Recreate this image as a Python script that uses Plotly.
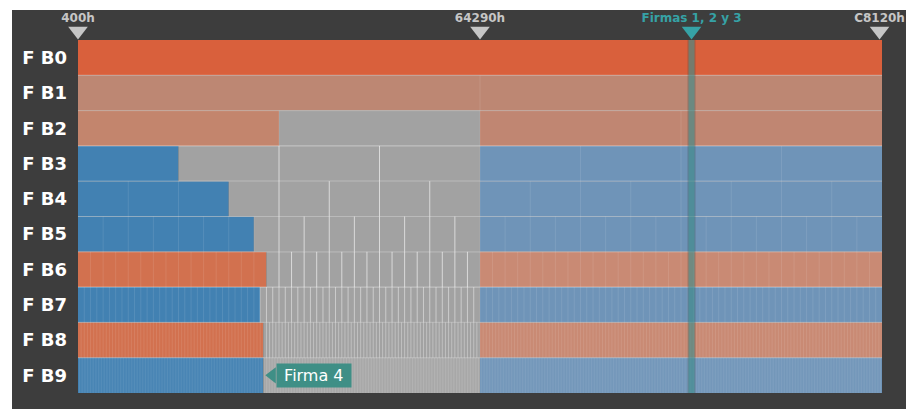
import plotly.graph_objects as go

# ---------------- data ----------------
rows = ["F B0", "F B1", "F B2", "F B3", "F B4", "F B5", "F B6", "F B7", "F B8", "F B9"]
range_start = 0x400      # 400h
range_mid = 0x64290      # 64290h
range_end = 0xC8120      # C8120h
firmas_pos = 625600      # "Firmas 1, 2 y 3"

# end of the coloured (resolved) segment of each row
left_ends = [819488, 410256, 205640, 103332, 154486, 180063, 192852, 186457, 189655, 189655]
# number of equal subdivisions of the full range on each row
divisions = [1, 2, 4, 8, 16, 32, 64, 128, 256, 512]

left_colors = ["#d9603c", "#bd8773", "#c3856d", "#4281b2", "#4281b2", "#4281b2",
               "#d2714f", "#4281b2", "#d2714f", "#4281b2"]
right_colors = ["#d9603c", "#bd8773", "#c08672", "#6f94b8", "#6f94b8", "#6f94b8",
                "#c98a74", "#6f94b8", "#c98a74", "#6f94b8"]
gray_color = "#a2a2a2"

marker_labels = ["400h", "64290h", "Firmas 1, 2 y 3", "C8120h"]
marker_pos = [range_start, range_mid, firmas_pos, range_end - 2500]
marker_colors = ["#c6c6c6", "#c6c6c6", "#36a2a6", "#c6c6c6"]

firma4_label = "Firma 4"

# ---------------- figure ----------------
FW, FH = 906, 401          # page has an 8px body margin
L, R, T, B = 70, 32, 0, 16
PW, PH = FW - L - R, FH - T - B     # 804 x 385
TOP_STRIP = 32                      # pixels reserved for the top markers
span = range_end - range_start
ys = list(range(len(rows)))

fig = go.Figure()

# coloured left segments
fig.add_trace(go.Bar(
    orientation="h", y=ys, base=[range_start] * len(rows),
    x=[le - range_start for le in left_ends],
    marker=dict(color=left_colors, line=dict(width=0)), width=1,
    hoverinfo="skip", showlegend=False))
# gray unresolved segments
fig.add_trace(go.Bar(
    orientation="h", y=ys, base=left_ends,
    x=[max(range_mid - le, 0) for le in left_ends],
    marker=dict(color=gray_color, line=dict(width=0)), width=1,
    hoverinfo="skip", showlegend=False))
# right segments
fig.add_trace(go.Bar(
    orientation="h", y=ys, base=[range_mid] * len(rows),
    x=[range_end - range_mid] * len(rows),
    marker=dict(color=right_colors, line=dict(width=0)), width=1,
    hoverinfo="skip", showlegend=False))

# subdivision lines
for i, n in enumerate(divisions):
    if n < 2:
        continue
    gx, gy, fx, fy = [], [], [], []
    for j in range(1, n):
        xv = range_start + j * span / n
        if left_ends[i] < xv < range_mid - 1:
            gx += [xv, xv, None]
            gy += [i - 0.5, i + 0.5, None]
        else:
            fx += [xv, xv, None]
            fy += [i - 0.5, i + 0.5, None]
    alpha = 0.6 if n <= 64 else (0.45 if n == 128 else (0.32 if n == 256 else 0.18))
    if gx:
        fig.add_trace(go.Scatter(x=gx, y=gy, mode="lines",
                                 line=dict(color=f"rgba(255,255,255,{alpha})", width=1),
                                 hoverinfo="skip", showlegend=False))
    if fx:
        fig.add_trace(go.Scatter(x=fx, y=fy, mode="lines",
                                 line=dict(color="rgba(255,255,255,0.10)", width=1),
                                 hoverinfo="skip", showlegend=False))

# row separators
sx, sy = [], []
for i in range(len(rows) - 1):
    sx += [range_start, range_end, None]
    sy += [i + 0.5, i + 0.5, None]
fig.add_trace(go.Scatter(x=sx, y=sy, mode="lines",
                         line=dict(color="rgba(255,255,255,0.42)", width=1),
                         hoverinfo="skip", showlegend=False))

# Firmas 1, 2 y 3 vertical strip
fig.add_trace(go.Scatter(x=[firmas_pos, firmas_pos], y=[-0.5, 9.5], mode="lines",
                         line=dict(color="rgba(60,60,60,0.28)", width=8),
                         hoverinfo="skip", showlegend=False))
fig.add_trace(go.Scatter(x=[firmas_pos, firmas_pos], y=[-0.5, 9.5], mode="lines",
                         line=dict(color="rgba(62,160,158,0.50)", width=6),
                         hoverinfo="skip", showlegend=False))

# top markers (on a second y axis occupying the top strip)
fig.add_trace(go.Scatter(
    x=marker_pos, y=[9] * len(marker_pos), yaxis="y2", mode="markers", cliponaxis=False,
    marker=dict(symbol="triangle-down", size=17, color=marker_colors, line=dict(width=0)),
    hoverinfo="skip", showlegend=False))
fig.add_trace(go.Scatter(
    x=marker_pos, y=[21] * len(marker_pos), yaxis="y2", mode="text", cliponaxis=False,
    text=[f"<b>{t}</b>" for t in marker_labels], textposition="middle center",
    textfont=dict(family="DejaVu Sans", size=12, color=marker_colors),
    hoverinfo="skip", showlegend=False))

# Firma 4 tag
tag_x = left_ends[9] + 13 / PW * span
fig.add_trace(go.Scatter(
    x=[tag_x - 4 / PW * span], y=[9], mode="markers", cliponaxis=False,
    marker=dict(symbol="triangle-left", size=14, color="#3f8f86", line=dict(width=0)),
    hoverinfo="skip", showlegend=False))
fig.add_annotation(x=tag_x, y=9, text=f" {firma4_label} ", showarrow=False,
                   font=dict(family="DejaVu Sans", size=16, color="white"),
                   bgcolor="#3f8f86", borderpad=2, xanchor="left", yanchor="middle")

# white strips outside the dark frame
fig.add_shape(type="rect", xref="paper", yref="paper",
              x0=-L / PW - 0.1, x1=1.2, y0=1 - 2 / PH, y1=1.2,
              fillcolor="white", line=dict(width=0), layer="above")
fig.add_shape(type="rect", xref="paper", yref="paper",
              x0=-L / PW - 0.1, x1=(4 - L) / PW, y0=-0.2, y1=1.2,
              fillcolor="white", line=dict(width=0), layer="above")

main_top = 1 - TOP_STRIP / PH
fig.update_layout(
    width=FW, height=FH,
    margin=dict(l=L, r=R, t=T, b=B),
    paper_bgcolor="#3d3d3d", plot_bgcolor="#3d3d3d",
    barmode="overlay",
    xaxis=dict(range=[range_start, range_end], showgrid=False, zeroline=False,
               showticklabels=False, ticks="", fixedrange=True, anchor="y"),
    yaxis=dict(domain=[0, main_top], range=[9.5, -0.5], tickvals=ys, ticktext=rows,
               showgrid=False, zeroline=False, ticks="", ticklabelstandoff=10,
               tickfont=dict(family="DejaVu Sans", size=18, color="white", weight="bold"),
               fixedrange=True),
    yaxis2=dict(domain=[main_top, 1], range=[0, TOP_STRIP], showgrid=False,
                zeroline=False, showticklabels=False, ticks="", fixedrange=True),
)

fig.write_html("out.html")
